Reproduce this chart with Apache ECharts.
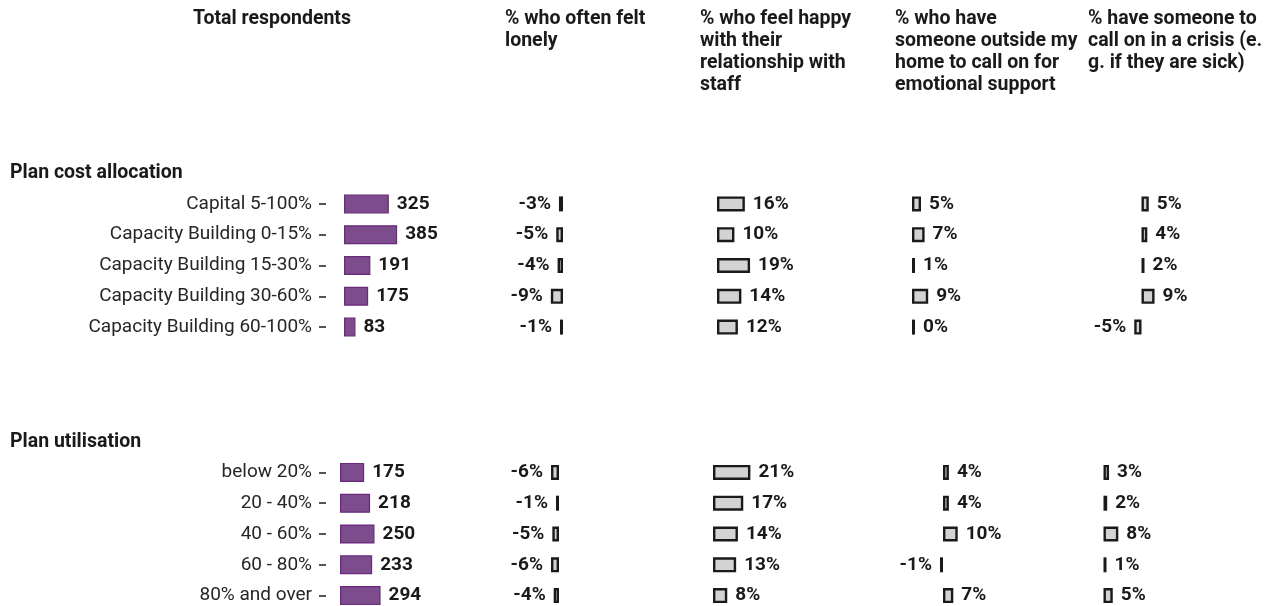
<!DOCTYPE html>
<html><head><meta charset="utf-8">
<script src="https://cdn.jsdelivr.net/npm/echarts@6/dist/echarts.min.js"></script>
<style>html,body{margin:0;padding:0;background:#fff}#c{width:1275px;height:606px}</style>
</head><body><div id="c"></div>
<script>
// ---------- data ----------
const groupTitles = ['Plan cost allocation', 'Plan utilisation'];
const columnTitles = [
  'Total respondents',
  '% who often felt\nlonely',
  '% who feel happy\nwith their\nrelationship with\nstaff',
  '% who have\nsomeone outside my\nhome to call on for\nemotional support',
  '% have someone to\ncall on in a crisis (e.\ng. if they are sick)'
];
const costCategories = ['Capital 5-100%', 'Capacity Building 0-15%', 'Capacity Building 15-30%', 'Capacity Building 30-60%', 'Capacity Building 60-100%'];
const utilCategories = ['below 20%', '20 - 40%', '40 - 60%', '60 - 80%', '80% and over'];

const costTotal     = [325, 385, 191, 175, 83];
const costLonely    = [-3, -5, -4, -9, -1];
const costHappy     = [16, 10, 19, 14, 12];
const costEmotional = [5, 7, 1, 9, 0];
const costCrisis    = [5, 4, 2, 9, -5];

const utilTotal     = [175, 218, 250, 233, 294];
const utilLonely    = [-6, -1, -5, -6, -4];
const utilHappy     = [21, 17, 14, 13, 8];
const utilEmotional = [4, 4, 10, -1, 7];
const utilCrisis    = [3, 2, 8, 1, 5];

// ---------- layout / style ----------
const FONT = 'Roboto, "Noto Sans", sans-serif';
const groups = [
  { title: groupTitles[0], cats: costCategories, cols: [costTotal, costLonely, costHappy, costEmotional, costCrisis] },
  { title: groupTitles[1], cats: utilCategories, cols: [utilTotal, utilLonely, utilHappy, utilEmotional, utilCrisis] }
];
const groupTop = [188.5, 457];
const groupTitleY = [173, 442];
const bandH = 30.8;
const colZero  = [[344, 563, 717, 912, 1141.5], [340, 559, 713, 943, 1103.5]];
const colScale = [[0.138, 1.35, 1.74, 1.8, 1.45], [0.138, 1.33, 1.78, 1.47, 1.85]];
const headerX = [193, 505, 700, 895, 1088];
const axisX = 326;

const grids = [], xAxes = [], yAxes = [], series = [];
groups.forEach((g, gi) => {
  g.cols.forEach((vals, ci) => {
    const idx = grids.length;
    const z = colZero[gi][ci], s = colScale[gi][ci];
    let min, max;
    if (ci === 0) { min = -(z - axisX) / s; max = 500; } else { min = -30; max = 30; }
    grids.push({ left: z + min * s, top: groupTop[gi], width: (max - min) * s, height: bandH * 5,
      containLabel: false, outerBoundsMode: 'none' });
    xAxes.push({ type: 'value', gridIndex: idx, min: min, max: max, show: false });
    yAxes.push({
      type: 'category', gridIndex: idx, data: g.cats, inverse: true,
      show: ci === 0,
      axisLine: { show: false, onZero: false },
      axisTick: { show: ci === 0, length: 7, lineStyle: { color: '#2a2a2a', width: 1.6 }, alignWithLabel: true },
      axisLabel: { show: ci === 0, margin: 14, fontSize: 19, color: '#262626', fontFamily: FONT },
      splitLine: { show: false }
    });
    const isTotal = ci === 0;
    series.push({
      type: 'bar', xAxisIndex: idx, yAxisIndex: idx,
      barWidth: isTotal ? 19 : 15,
      barMinHeight: 3,
      itemStyle: isTotal
        ? { color: '#7c4c8c', borderColor: '#6a2a7c', borderWidth: 1.2 }
        : { color: '#d3d3d3', borderColor: '#1a1a1a', borderWidth: 2.4 },
      label: {
        show: true, distance: 8, fontSize: 19, fontWeight: 'bold', color: '#1a1a1a', fontFamily: FONT,
        formatter: isTotal ? '{c}' : '{c}%'
      },
      data: vals.map(v => ({ value: v, label: { position: v < 0 ? 'left' : 'right' } }))
    });
  });
});

const graphics = [];
columnTitles.forEach((t, i) => {
  graphics.push({ type: 'text', left: headerX[i], top: 8, style: {
    text: t, font: 'bold 19.5px ' + FONT, fill: '#1a1a1a', lineHeight: 22 } });
});
groups.forEach((g, gi) => {
  graphics.push({ type: 'text', left: 10, top: groupTitleY[gi] - 11, style: {
    text: g.title, font: 'bold 19.5px ' + FONT, fill: '#1a1a1a', lineHeight: 22 } });
});

const chart = echarts.init(document.getElementById('c'), null, { renderer: 'canvas' });
chart.setOption({
  animation: false,
  backgroundColor: '#fff',
  grid: grids, xAxis: xAxes, yAxis: yAxes, series: series,
  graphic: graphics
});
</script></body></html>
